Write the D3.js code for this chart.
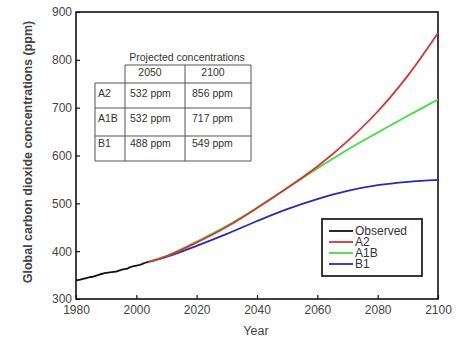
<!DOCTYPE html>
<html>
<head>
<meta charset="utf-8">
<script src="https://cdn.jsdelivr.net/npm/d3@7"></script>
<style>
  html, body { margin: 0; padding: 0; background: #fff; }
  svg { display: block; font-family: "Liberation Sans", Arial, Helvetica, sans-serif; }
</style>
</head>
<body>
<svg id="chart" width="462" height="339"></svg>
<script>
// Observed CO2 (ppm), 1980-2004
const observedYears = [1980,1981,1982,1983,1984,1985,1986,1987,1988,1989,1990,1991,1992,1993,1994,1995,1996,1997,1998,1999,2000,2001,2002,2003,2004];
const observedValues = [338.7,340.1,341.4,343.0,344.6,346.0,347.4,349.2,351.6,353.1,354.4,355.6,356.4,357.1,358.8,360.8,362.6,363.7,366.7,368.4,369.6,371.1,373.3,375.8,377.5];

// Scenario projections (ppm)
const projYears = [2004,2010,2020,2030,2040,2050,2060,2070,2080,2090,2100];
const a2Values  = [377.5,389,418,451,490,532,577,630,692,767,856];
const a1bValues = [377.5,390,420,453,491,532,573,612,648,683,717];
const b1Values  = [377.5,388,411,436,463,488,509,526,538,545,549];

const seriesNames  = ["Observed","A2","A1B","B1"];
const seriesColors = ["#111111","#d83434","#44dd44","#2a2ab8"];

// Inset table
const tableColumns = ["2050","2100"];
const tableRows = ["A2","A1B","B1"];
const table2050 = ["532 ppm","532 ppm","488 ppm"];
const table2100 = ["856 ppm","717 ppm","549 ppm"];

const xTicks = [1980,2000,2020,2040,2060,2080,2100];
const yTicks = [300,400,500,600,700,800,900];

const svg = d3.select("#chart");
const plotL = 76, plotR = 438, plotT = 12, plotB = 299;

const x = d3.scaleLinear().domain([1980,2100]).range([plotL,plotR]);
const y = d3.scaleLinear().domain([300,900]).range([plotB,plotT]);

// Axes with inward ticks
const xAxis = svg.append("g").attr("transform",`translate(0,${plotB})`)
  .call(d3.axisBottom(x).tickValues(xTicks).tickFormat(d3.format("d")).tickSize(-4).tickPadding(6));
const yAxis = svg.append("g").attr("transform",`translate(${plotL},0)`)
  .call(d3.axisLeft(y).tickValues(yTicks).tickSize(-4).tickPadding(4));
[xAxis,yAxis].forEach(a => {
  a.select(".domain").remove();
  a.selectAll(".tick line").attr("stroke","#111").attr("stroke-width",1.2);
  a.selectAll(".tick text").attr("fill","#444").style("font-size","12px");
});

// Plot frame
svg.append("rect").attr("x",plotL).attr("y",plotT).attr("width",plotR-plotL).attr("height",plotB-plotT)
  .attr("fill","none").attr("stroke","#111").attr("stroke-width",1.6);

// Lines
const obsLine = d3.line().x(d => x(d[0])).y(d => y(d[1])).curve(d3.curveMonotoneX);
const projLine = d3.line().x(d => x(d[0])).y(d => y(d[1])).curve(d3.curveCatmullRom.alpha(0.5));
const seriesData = [
  d3.zip(observedYears, observedValues),
  d3.zip(projYears, a2Values),
  d3.zip(projYears, a1bValues),
  d3.zip(projYears, b1Values)
];
// projections first (B1, A1B, A2), observed on top
[3,2,1,0].forEach(i => {
  svg.append("path").datum(seriesData[i]).attr("d", i === 0 ? obsLine : projLine)
    .attr("fill","none").attr("stroke",seriesColors[i]).attr("stroke-width",1.8);
});

// Axis titles
svg.append("text").attr("x",256).attr("y",335).attr("text-anchor","middle")
  .attr("fill","#444").style("font-size","12.5px").text("Year");
svg.append("text").attr("transform","translate(32,152) rotate(-90)").attr("text-anchor","middle")
  .attr("fill","#444").style("font-size","12.5px").style("font-weight","bold")
  .text("Global carbon dioxide concentrations (ppm)");

// Inset table
const colX = [95,125,185,251];
const rowY = [65,83,108,136,161];
const tg = svg.append("g").attr("stroke","#555").attr("stroke-width",1).attr("fill","none");
tg.append("line").attr("x1",colX[1]).attr("x2",colX[3]).attr("y1",rowY[0]).attr("y2",rowY[0]);
[1,2,3,4].forEach(r => tg.append("line").attr("x1",colX[0]).attr("x2",colX[3]).attr("y1",rowY[r]).attr("y2",rowY[r]));
tg.append("line").attr("x1",colX[0]).attr("x2",colX[0]).attr("y1",rowY[1]).attr("y2",rowY[4]);
[1,2,3].forEach(c => tg.append("line").attr("x1",colX[c]).attr("x2",colX[c]).attr("y1",rowY[0]).attr("y2",rowY[4]));

const tt = svg.append("g").attr("fill","#333").style("font-size","10.5px");
tt.append("text").attr("x",187).attr("y",61).attr("text-anchor","middle").text("Projected concentrations");
tableColumns.forEach((c,i) => tt.append("text").attr("x",i===0?150:213).attr("y",76).attr("text-anchor","middle").text(c));
const rowTextY = [97,122,147];
tableRows.forEach((r,i) => {
  tt.append("text").attr("x",98).attr("y",rowTextY[i]).text(r);
  tt.append("text").attr("x",130).attr("y",rowTextY[i]).text(table2050[i]);
  tt.append("text").attr("x",192).attr("y",rowTextY[i]).text(table2100[i]);
});

// Legend
svg.append("rect").attr("x",322).attr("y",219).attr("width",100).attr("height",57)
  .attr("fill","#fff").attr("stroke","#222").attr("stroke-width",1.8);
seriesNames.forEach((n,i) => {
  const ly = 231 + i*11;
  svg.append("line").attr("x1",329).attr("x2",353).attr("y1",ly).attr("y2",ly)
    .attr("stroke",seriesColors[i]).attr("stroke-width",1.8);
  svg.append("text").attr("x",355).attr("y",ly+4.3).attr("fill","#333")
    .style("font-size","12px").text(n);
});
</script>
</body>
</html>
